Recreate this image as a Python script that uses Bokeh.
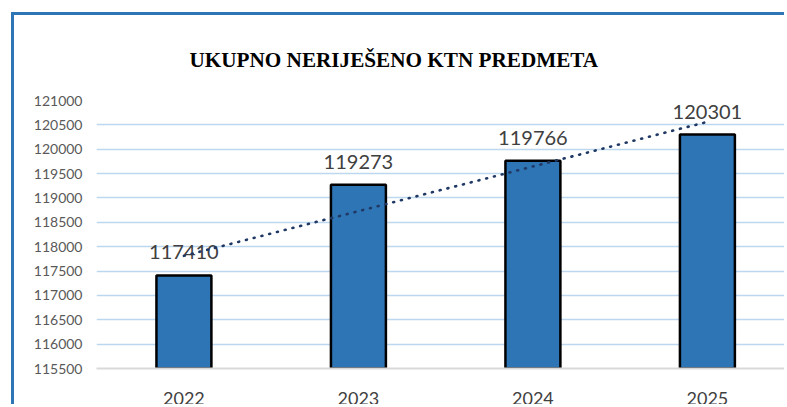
import numpy as np
from bokeh.plotting import figure
from bokeh.models import Range1d, FixedTicker, Title, BasicTickFormatter
from bokeh.embed import file_html
from bokeh.resources import INLINE

# ---- data ----
years = ["2022", "2023", "2024", "2025"]
values = [117410, 119273, 119766, 120301]
y_ticks = [115500, 116000, 116500, 117000, 117500, 118000, 118500,
           119000, 119500, 120000, 120500, 121000]
title_text = "UKUPNO NERIJEŠENO KTN PREDMETA"

xs = list(range(len(years)))

p = figure(width=773, height=392, output_backend="svg", toolbar_location=None,
           x_range=Range1d(-0.501, 3.459), y_range=Range1d(115500, 121000),
           min_border_left=82, min_border_right=0, min_border_top=85,
           min_border_bottom=38)
# chart area border (only left/top visible in the crop)
p.styles = {"border-left": "3px solid #2E75B6", "border-top": "3px solid #2E75B6",
            "border-right": "none", "border-bottom": "none",
            "margin-left": "11px", "margin-top": "12px"}
p.outline_line_color = None
p.background_fill_color = "white"
p.border_fill_color = "white"

p.title = Title(text=title_text, align="left", offset=93,
                text_font="Liberation Serif", text_font_size="21.2px",
                text_font_style="bold", text_color="#000000", standoff=58)

# bars
p.vbar(x=xs, top=values, bottom=115500, width=0.315, fill_color="#2E75B6",
       line_color="#000000", line_width=2.5)

# data labels
p.text(x=xs, y=values, text=[str(v) for v in values], text_align="center",
       text_baseline="alphabetic", y_offset=-23, text_font_size="20px",
       text_font={"value": "Lato"}, text_color="#404040")

# linear trendline
coef = np.polyfit(xs, values, 1)
tx = [xs[0], xs[-1]]
ty = [coef[0] * t + coef[1] for t in tx]
p.line(tx, ty, line_color="#203864", line_width=2.6, line_dash="1 7",
       line_cap="round")

# axes
p.xaxis.ticker = FixedTicker(ticks=xs)
p.xaxis.major_label_overrides = {i: y for i, y in enumerate(years)}
p.xaxis.major_tick_line_color = None
p.xaxis.minor_tick_line_color = None
p.xaxis.major_tick_out = 0
p.xaxis.major_tick_in = 0
p.xaxis.axis_line_color = "#D9D9D9"
p.xaxis.axis_line_width = 2
p.xaxis.major_label_standoff = 23
p.xaxis.major_label_text_font = "Lato"
p.xaxis.major_label_text_font_size = "18px"
p.xaxis.major_label_text_color = "#404040"

p.yaxis.ticker = FixedTicker(ticks=y_ticks)
p.yaxis.formatter = BasicTickFormatter(use_scientific=False)
p.yaxis.axis_line_color = None
p.yaxis.major_tick_line_color = None
p.yaxis.minor_tick_line_color = None
p.yaxis.major_tick_out = 0
p.yaxis.major_tick_in = 0
p.yaxis.major_label_standoff = 14
p.yaxis.major_label_text_font = "Lato"
p.yaxis.major_label_text_font_size = "14px"
p.yaxis.major_label_text_color = "#595959"

p.xgrid.grid_line_color = None
p.ygrid.grid_line_color = "#BDD7EE"
p.ygrid.grid_line_width = 1.6
p.ygrid.ticker = FixedTicker(ticks=y_ticks[1:])

open("out.html", "w").write(file_html(p, INLINE))
